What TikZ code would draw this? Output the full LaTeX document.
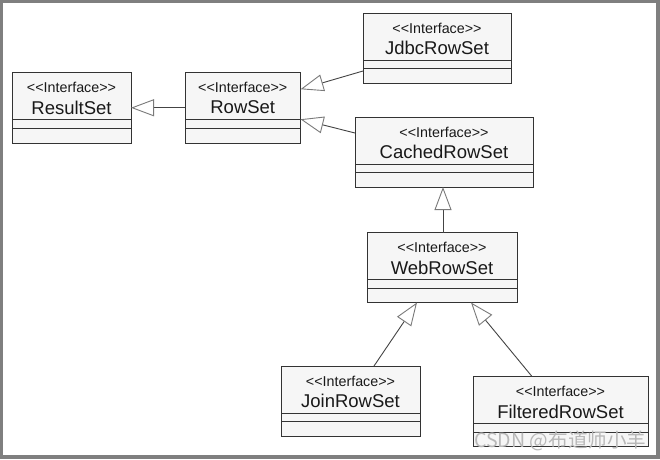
\documentclass[tikz,border=0pt]{standalone}
\usepackage{fontspec}
\setmainfont{Liberation Sans}[Ligatures=TeXOff]
\newfontfamily\cjkfont{Noto Sans CJK SC}
\usetikzlibrary{arrows.meta}
\definecolor{frameg}{HTML}{7F7F7F}
\definecolor{boxfill}{HTML}{F6F6F6}
\definecolor{boxline}{HTML}{333333}
\definecolor{conline}{HTML}{444444}
\definecolor{tipline}{HTML}{7A7A7A}
\definecolor{wmark}{HTML}{B8B8B8}
\tikzset{
  classbox/.style={draw=boxline, fill=boxfill, line width=0.9pt, inner sep=0pt, outer sep=0pt},
  stereo/.style={inner sep=0pt, font=\fontsize{14.3}{15}\selectfont, text=black!90},
  cname/.style={inner sep=0pt, font=\fontsize{18.5}{20}\selectfont, text=black!90},
  divider/.style={draw=boxline, line width=0.9pt},
  inherit/.style={draw=conline, line width=0.9pt,
    -{Triangle[open, length=23pt, width=17pt, color=tipline, line width=0.9pt]}},
}
\newcommand\umlclass[6]{%
  \node[classbox, minimum width={(#4-#2)*1pt}, minimum height={(#5-#3)*1pt}] (#1) at ({(#2+#4)/2},{(#3+#5)/2}) {};
  \node[stereo] (#1-s) at ([yshift=-15pt]#1.north) {<\kern0pt<Interface>\kern0pt>};
  \node[cname] (#1-n) at ([yshift=-35pt]#1.north) {#6};
  \draw[divider] ([yshift=-47pt]#1.north west) -- ([yshift=-47pt]#1.north east);
  \draw[divider] ([yshift=-55.5pt]#1.north west) -- ([yshift=-55.5pt]#1.north east);
}
\begin{document}
\begin{tikzpicture}[x=1pt, y=-1pt]
  \fill[frameg] (0,0) rectangle (660,459);
  \fill[white] (3,3) rectangle (656,455);
  \useasboundingbox (0,0) rectangle (660,459);

  \umlclass{ResultSet}{12}{72.5}{131}{143}{ResultSet}
  \umlclass{RowSet}{185}{72.5}{300.5}{143}{RowSet}
  \umlclass{Jdbc}{363}{13}{511}{83}{JdbcRowSet}
  \umlclass{Cached}{355}{117}{533}{187}{CachedRowSet}
  \umlclass{Web}{367}{232.5}{517}{302.5}{WebRowSet}
  \umlclass{Join}{281}{366}{420}{436}{JoinRowSet}
  \umlclass{Filtered}{473}{376.5}{648}{446}{FilteredRowSet}

  \draw[inherit] (RowSet.west) -- (ResultSet.east);
  \draw[inherit] ([yshift=-23pt]Jdbc.west) -- ([yshift=18.5pt]RowSet.east);
  \draw[inherit] ([yshift=19pt]Cached.west) -- ([yshift=-11.5pt]RowSet.east);
  \draw[inherit] ([xshift=1pt]Web.north) -- ([xshift=1pt]Web.north |- Cached.south);
  \draw[inherit] ([xshift=23.5pt]Join.north) -- ([xshift=-25pt]Web.south);
  \draw[inherit] ([xshift=-28.5pt]Filtered.north) -- ([xshift=29pt]Web.south);

  \node[inner sep=0pt, anchor=west, text=wmark, font=\cjkfont\fontsize{19.6}{21}\selectfont] (wm) at (474,441) {CSDN @布道师小羊};
\end{tikzpicture}
\end{document}
